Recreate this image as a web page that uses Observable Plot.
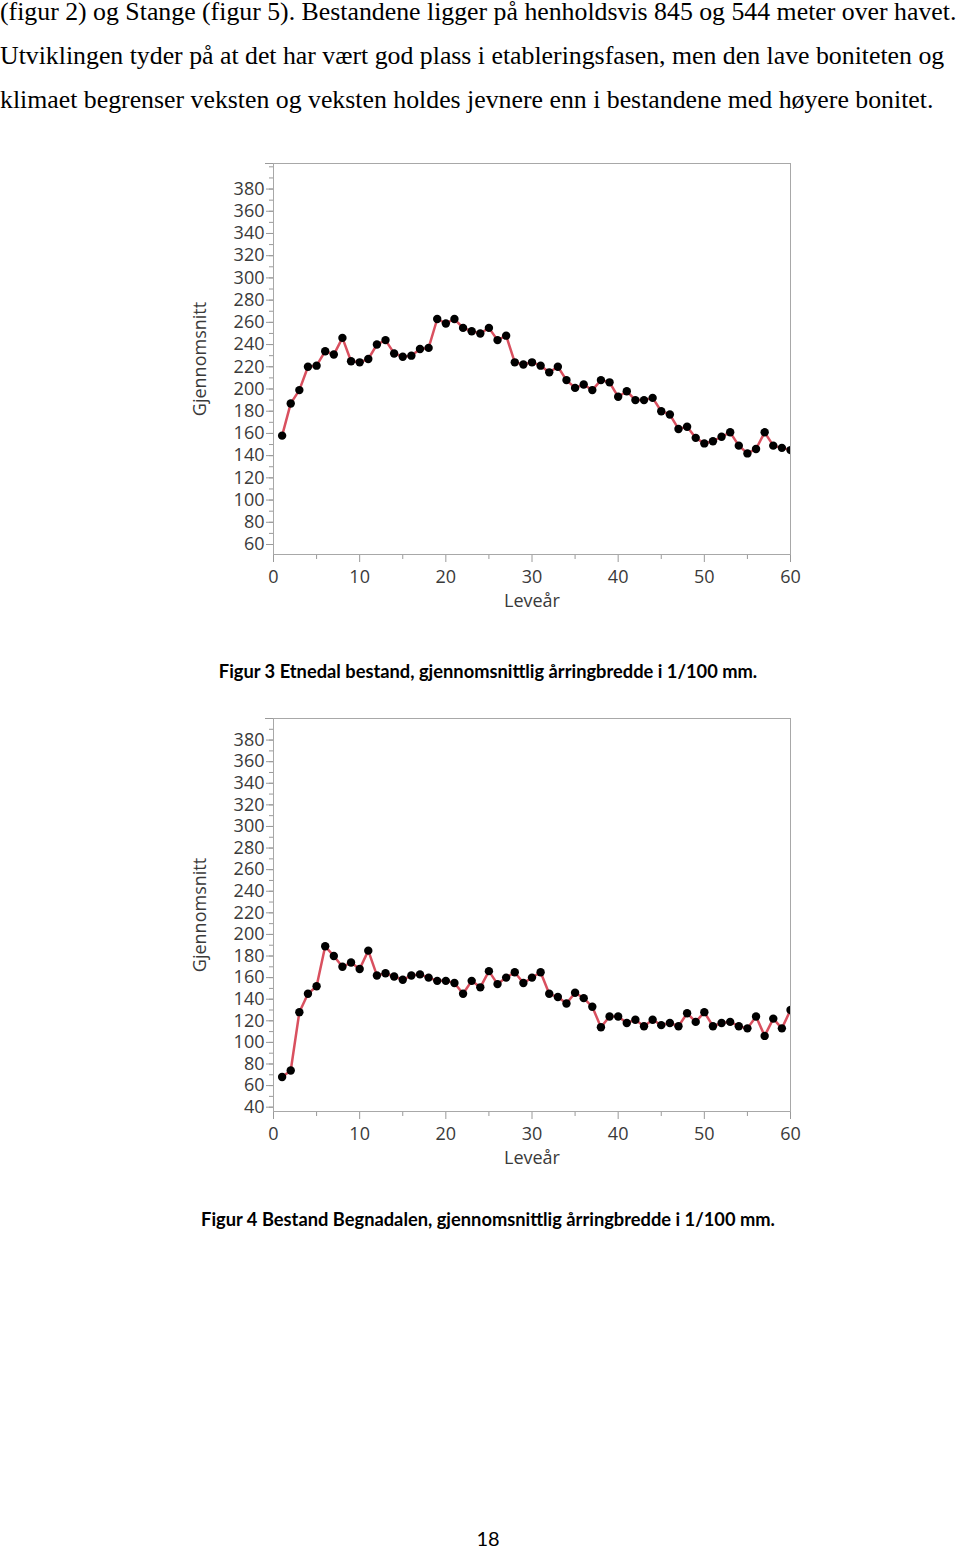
<!DOCTYPE html>
<html><head><meta charset="utf-8">
<script src="https://cdn.jsdelivr.net/npm/d3@7"></script>
<script src="https://cdn.jsdelivr.net/npm/@observablehq/plot@0.6"></script>
<style>
body{margin:0;background:#fff;width:960px;height:1548px;position:relative;overflow:hidden}
.p{position:absolute;left:0;font-family:"Liberation Serif","Times New Roman",serif;font-size:25.8px;line-height:26px;white-space:nowrap;color:#000}
.cap{position:absolute;left:0;width:976px;text-align:center;font-family:Lato,"Open Sans",sans-serif;font-weight:bold;font-size:18.3px;line-height:20px;white-space:nowrap;color:#000}
.chart{position:absolute;left:0}
.pg{position:absolute;left:0;width:976px;text-align:center;font-family:Lato,"Open Sans",sans-serif;font-size:20px;line-height:22px}
</style></head><body>
<div class="p" style="top:-1px">(figur 2) og Stange (figur 5). Bestandene ligger på henholdsvis 845 og 544 meter over havet.</div>
<div class="p" style="top:43px">Utviklingen tyder på at det har vært god plass i etableringsfasen, men den lave boniteten og</div>
<div class="p" style="top:87px">klimaet begrenser veksten og veksten holdes jevnere enn i bestandene med høyere bonitet.</div>
<div id="c1" class="chart" style="top:140px"></div>
<div class="cap" style="top:661px">Figur 3 Etnedal bestand, gjennomsnittlig årringbredde i 1/100 mm.</div>
<div id="c2" class="chart" style="top:695px"></div>
<div class="cap" style="top:1209px">Figur 4 Bestand Begnadalen, gjennomsnittlig årringbredde i 1/100 mm.</div>
<div class="pg" style="top:1527px">18</div>
<script>
// Data
const leveaar = [1,2,3,4,5,6,7,8,9,10,11,12,13,14,15,16,17,18,19,20,21,22,23,24,25,26,27,28,29,30,
  31,32,33,34,35,36,37,38,39,40,41,42,43,44,45,46,47,48,49,50,51,52,53,54,55,56,57,58,59,60];
const etnedal = [158,187,199,220,221,234,231,246,225,224,
  227,240,244,232,229,230,236,237,263,259,
  263,255,252,250,255,244,248,224,222,224,
  221,215,220,208,201,204,199,208,206,193,
  198,190,190,192,180,177,164,166,156,151,
  153,157,161,149,142,146,161,149,147,145];
const begnadalen = [68,74,128,145,152,189,180,170,174,168,
  185,162,164,161,158,162,163,160,157,157,
  155,145,157,151,166,154,160,165,155,160,
  165,145,142,136,146,141,133,114,124,124,
  118,121,115,121,116,118,115,127,119,128,
  115,118,119,115,113,124,106,122,113,130];
const yTicks1 = [60,80,100,120,140,160,180,200,220,240,260,280,300,320,340,360,380];
const yTicks2 = [40,60,80,100,120,140,160,180,200,220,240,260,280,300,320,340,360,380];
const xTicks = [0,10,20,30,40,50,60];
const xMinor = [5,15,25,35,45,55];

function makeChart(values, yDomain, yLabels, height, mt, mb) {
  const rows = leveaar.map((a, i) => ({aar: a, v: values[i]}));
  const yMinor = d3.range(Math.ceil(yDomain[0] / 10) * 10, yDomain[1], 10);
  const grey = "#9a9a9a";
  return Plot.plot({
    width: 960, height, marginLeft: 273, marginRight: 170, marginTop: mt, marginBottom: mb,
    style: {fontFamily: "'Open Sans', 'Noto Sans', sans-serif", fontSize: "18px", color: "#3a3a3a", background: "transparent", overflow: "visible"},
    x: {domain: [0, 60]},
    y: {domain: yDomain},
    marks: [
      Plot.axisY({ticks: yMinor, tickSize: 4, tickFormat: () => "", stroke: grey, label: null}),
      Plot.axisY({ticks: [yDomain[1]], tickSize: 8, tickFormat: () => "", stroke: grey, label: null}),
      Plot.axisY({ticks: yLabels, tickSize: 7, tickPadding: 2, stroke: grey, fill: "#3a3a3a",
        label: "Gjennomsnitt", labelAnchor: "center", labelOffset: 80, labelArrow: "none"}),
      Plot.axisX({ticks: xMinor, tickSize: 5, tickFormat: () => "", stroke: grey, label: null}),
      Plot.axisX({ticks: xTicks, tickSize: 8, tickPadding: 8, stroke: grey, fill: "#3a3a3a",
        label: "Leveår", labelAnchor: "center", labelOffset: 52, labelArrow: "none"}),
      Plot.frame({stroke: "#a8a8a8"}),
      Plot.line(rows, {x: "aar", y: "v", stroke: "#d9505f", strokeWidth: 2.5, clip: true}),
      Plot.dot(rows, {x: "aar", y: "v", r: 4.2, fill: "#000", stroke: "none", clip: true})
    ]
  });
}

document.getElementById("c1").append(makeChart(etnedal, [51, 403], yTicks1, 490, 23, 76));
document.getElementById("c2").append(makeChart(begnadalen, [36, 400], yTicks2, 490, 23, 74));
</script>
</body></html>
